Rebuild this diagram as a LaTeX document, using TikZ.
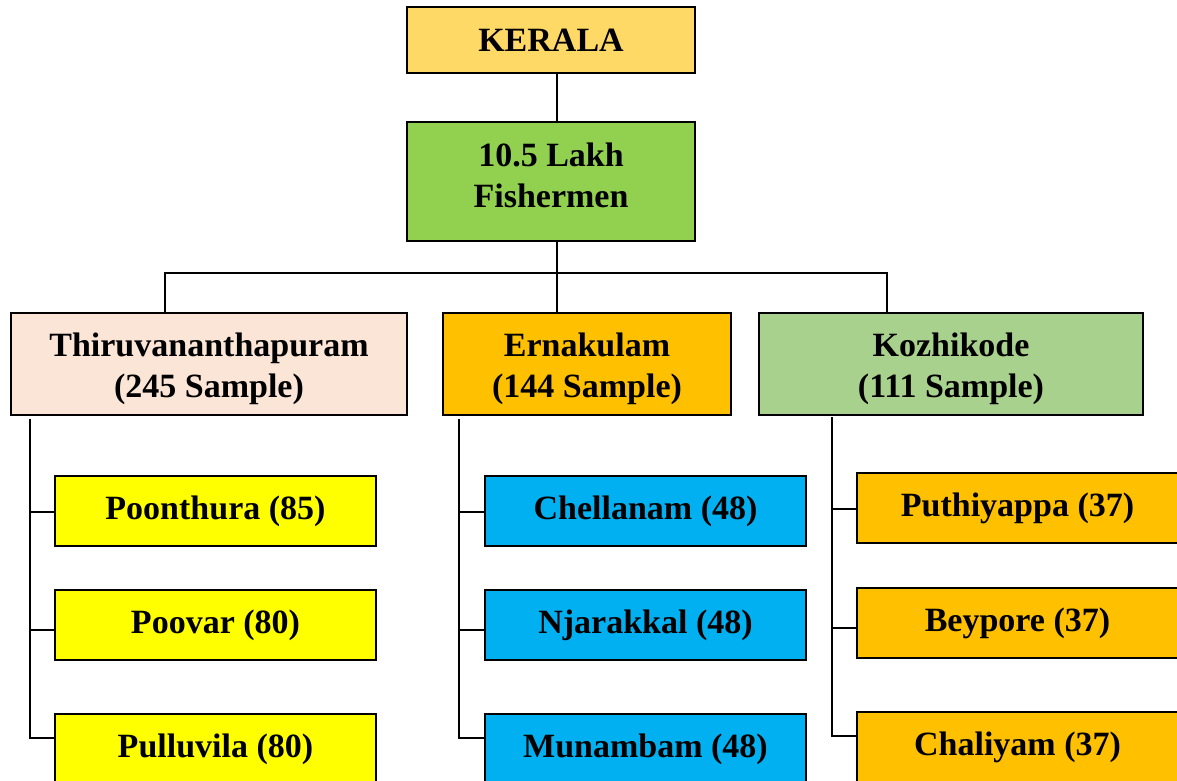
\documentclass[tikz,border=0pt]{standalone}
\usepackage{fontspec}
\setmainfont{Liberation Serif}
\definecolor{cGold}{HTML}{FFD966}
\definecolor{cGreen}{HTML}{92D050}
\definecolor{cPeach}{HTML}{FBE5D6}
\definecolor{cAmber}{HTML}{FFC000}
\definecolor{cSage}{HTML}{A9D18E}
\definecolor{cYellow}{HTML}{FFFF00}
\definecolor{cCyan}{HTML}{00B0F0}
\tikzset{
  box/.style={draw=black, line width=1.8pt, inner sep=0pt, outer sep=0pt,
    align=center, anchor=north west,
    font=\bfseries\fontsize{34}{41}\selectfont},
  caption/.style={inner sep=0pt, align=center,
    font=\bfseries\fontsize{34}{41}\selectfont},
  top/.style={box, minimum width=288pt, minimum height=66pt},
  mid/.style={box, minimum width=288pt, minimum height=119pt},
  district/.style={box, minimum height=102pt},
  village/.style={box, minimum width=321pt, minimum height=70pt},
  link/.style={draw=black, line width=1.6pt}
}
\begin{document}
\begin{tikzpicture}[x=1pt, y=-1pt]
\useasboundingbox (0,0) rectangle (1177,780);
\fill[white] (0,0) rectangle (1177,780);

% top levels
\node[top, fill=cGold] (kerala) at (407,7) {KERALA};
\node[mid, fill=cGreen] (fish) at (407,122) {};
\node[caption, yshift=6pt] (fishtext) at (fish.center) {10.5 Lakh\\Fishermen};

% districts
\node[district, fill=cPeach, minimum width=396pt] (thiru) at (11,313) {};
\node[district, fill=cAmber, minimum width=288pt] (ern) at (443,313) {};
\node[district, fill=cSage, minimum width=384pt] (koz) at (759,313) {};
\node[caption, yshift=-5pt] (thirutext) at (thiru.center) {Thiruvananthapuram\\(245 Sample)};
\node[caption, yshift=-5pt] (erntext) at (ern.center) {Ernakulam\\(144 Sample)};
\node[caption, yshift=-5pt] (koztext) at (koz.center) {Kozhikode\\(111 Sample)};

% fishing villages
\node[village, fill=cYellow] (poon) at (55,476) {Poonthura (85)};
\node[village, fill=cYellow] (poov) at (55,590) {Poovar (80)};
\node[village, fill=cYellow] (pull) at (55,714) {Pulluvila (80)};

\node[village, fill=cCyan] (chel) at (485,476) {Chellanam (48)};
\node[village, fill=cCyan] (njar) at (485,590) {Njarakkal (48)};
\node[village, fill=cCyan] (muna) at (485,714) {Munambam (48)};

\node[village, fill=cAmber] (puth) at (857,473) {Puthiyappa (37)};
\node[village, fill=cAmber] (beyp) at (857,588) {Beypore (37)};
\node[village, fill=cAmber] (chal) at (857,712) {Chaliyam (37)};

% trunk and bus
\coordinate (trunk) at (557,273);
\coordinate (busL) at (165,273);
\coordinate (busR) at (887,273);
\draw[link] (kerala.south -| trunk) -- (fish.north -| trunk);
\draw[link] (fish.south -| trunk) -- (ern.north -| trunk);
\draw[link] (thiru.north -| busL) -- (busL) -- (busR) -- (koz.north -| busR);

% Thiruvananthapuram branches
\coordinate (sA) at (30,419);
\coordinate (sA1) at (30,512);
\coordinate (sA2) at (30,630);
\coordinate (sA3) at (30,738);
\draw[link] (sA) -- (sA3) -- (sA3 -| pull.west);
\draw[link] (sA1) -- (sA1 -| poon.west);
\draw[link] (sA2) -- (sA2 -| poov.west);

% Ernakulam branches
\coordinate (sB) at (459,419);
\coordinate (sB1) at (459,512);
\coordinate (sB2) at (459,630);
\coordinate (sB3) at (459,738);
\draw[link] (sB) -- (sB3) -- (sB3 -| muna.west);
\draw[link] (sB1) -- (sB1 -| chel.west);
\draw[link] (sB2) -- (sB2 -| njar.west);

% Kozhikode branches
\coordinate (sC) at (832,417);
\coordinate (sC1) at (832,509);
\coordinate (sC2) at (832,628);
\coordinate (sC3) at (832,736);
\draw[link] (sC) -- (sC3) -- (sC3 -| chal.west);
\draw[link] (sC1) -- (sC1 -| puth.west);
\draw[link] (sC2) -- (sC2 -| beyp.west);
\end{tikzpicture}
\end{document}
